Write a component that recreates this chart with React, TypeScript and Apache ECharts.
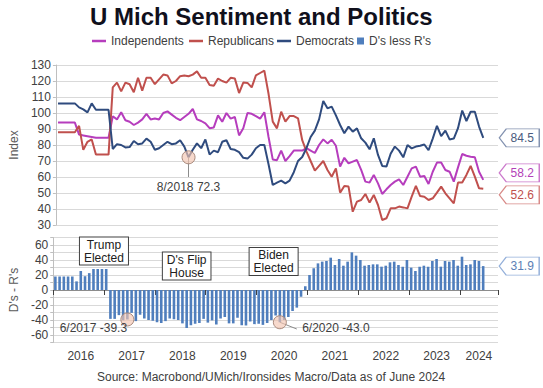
import React, { useEffect, useRef } from 'react';
import * as echarts from 'echarts';

// Monthly categories Jan 2016 .. Sep 2024 (axis runs a little past the data)
const categories: string[] = [];
for (let y = 2016; y <= 2024; y++) {
  for (let m = 1; m <= 12; m++) {
    if (y === 2024 && m > 9) break;
    categories.push(`${m}/${y}`);
  }
}

const independents = [
  94, 94, 94, 94, 94, 86.5, 86, 85.5, 85, 84.5, 84.5, 84.5,
  84.5, 98, 96, 100.5, 95.5, 94.5, 92.5, 94, 96, 99.5, 96, 96.5,
  96, 100, 101, 99, 97, 95.5, 97.5, 99.5, 102.5, 96, 95, 93.5,
  90.5, 91, 98.5, 94.5, 100, 96.5, 97.5, 86, 90.5, 100, 99.5, 98,
  96.5, 100.5, 85, 71, 70.5, 76.5, 70, 73, 76.5, 76.5, 76.5, 78,
  76.5, 75, 80, 83.5, 81, 83.3, 79.5, 66.5, 72, 68.5, 69.6, 70.6,
  64.4, 57.1, 56.5, 61.3, 56, 49.4, 52.3, 55, 57.1, 58.5, 55, 60.2,
  65.4, 66.5, 60.2, 60.6, 55.6, 63.3, 69, 69, 64.4, 63.3, 57.1, 66,
  74.4, 73.3, 72.7, 72.3, 63.3, 58.2,
];

const republicans = [
  88, 88, 88, 88, 88, 92, 77, 82, 83.5, 74, 74, 74,
  74, 116, 119, 113.5, 119, 118, 113, 122, 114, 122, 122, 118,
  121, 124, 123.5, 118.5, 120, 123, 123.5, 123, 124, 126, 122, 122,
  117.5, 117, 121.5, 120, 119, 122, 121.5, 112.5, 119, 118.8, 116, 123.5,
  125, 126.5, 112, 94.6, 90.4, 100.8, 94.6, 98.1, 98.1, 96.7, 83, 76,
  70, 64, 67, 70, 64.4, 60.2, 65.4, 50.2, 54.4, 54, 38.3, 44.6,
  45.6, 49.4, 44, 48.8, 42.5, 33.1, 34.2, 40.4, 40.4, 41.5, 41, 40.4,
  47.7, 54.4, 48.1, 47.7, 45.6, 46.7, 50.2, 54, 49.8, 46.7, 43.5, 56.5,
  56.5, 61.3, 66.9, 60.2, 52.9, 52.6,
];

const democrats = [
  106, 106, 106, 106, 106, 103.5, 102.3, 100.4, 106, 102, 102, 102,
  102, 77.5, 80.5, 80, 78.5, 78.7, 82.5, 80.5, 81, 84, 82, 77,
  78, 80, 82, 80.5, 81, 83, 79, 72.3, 77, 81, 78, 83.5,
  74, 76.5, 75.5, 82, 83, 77.5, 77, 75.5, 72, 71.5, 74, 78,
  80, 80, 68, 55, 56.5, 57.7, 56, 57.7, 63, 70, 72.5, 78,
  85, 89, 96, 107.5, 102.9, 104, 98.5, 92.5, 87.3, 91.5, 88.3, 90.4,
  84.2, 81.5, 77.3, 84.2, 73.8, 66.9, 66.5, 74.5, 79, 76.5, 72.3, 80,
  77.9, 79, 79.5, 80.3, 76.7, 84, 92, 85.6, 89, 83.5, 84, 90.5,
  101.5, 95, 100.8, 100.8, 91.5, 84.5,
];

const dLessR = [
  18, 18, 18, 18, 18, 11.5, 25.3, 18.4, 22.5, 28, 28, 28,
  28, -38.5, -38.5, -33.5, -40.5, -39.3, -30.5, -41.5, -33, -38, -40, -41,
  -43, -44, -41.5, -38, -39, -40, -44.5, -50.7, -47, -45, -44, -38.5,
  -43.5, -40.5, -46, -38, -36, -44.5, -44.5, -37, -47, -47.3, -42, -45.5,
  -45, -46.5, -44, -40, -34, -43, -40, -36, -28, -23.5, -9, 5,
  20, 29, 35.5, 37.8, 38.7, 43.1, 33.3, 41.3, 32.4, 37.8, 50.2, 45.8,
  40, 32.4, 33.3, 34.2, 34.2, 31.1, 32.4, 36.9, 37.8, 33.3, 31, 40,
  29.8, 25.3, 31, 32.4, 31, 38.7, 41.3, 31.1, 38.7, 37.8, 40, 32.4,
  44.4, 33.3, 34.2, 40, 38.7, 31.9,
];

const yearLabelIdx = [6, 18, 30, 42, 54, 66, 78, 90, 100];

const FONT = '"Liberation Sans", Arial, sans-serif';
const C_IND = '#B63DBD';
const C_REP = '#C0504D';
const C_DEM = '#2F4B7E';
const C_BAR = '#4F7EBD';
const GRID = '#d9d9d9';
const TXT = '#404040';

const ARROW = 'path://M0,9L7,0L40,0L40,18L7,18Z';

function lastLabel(idx: number, value: number, border: string, color: string, dy: number) {
  return {
    coord: [categories[idx], value],
    symbol: ARROW,
    symbolSize: [40, 18],
    symbolOffset: [36, dy],
    itemStyle: { color: '#ffffff', borderColor: border, borderWidth: 1 },
    label: {
      show: true,
      position: 'inside',
      offset: [3, 0],
      color,
      fontSize: 12,
      fontFamily: FONT,
      formatter: value.toFixed(1),
    },
  };
}

function circleNote(idx: number, value: number, text: string, labelOpt: any) {
  return {
    coord: [categories[idx], value],
    symbol: 'circle',
    symbolSize: 13,
    itemStyle: { color: 'rgba(242,196,176,0.65)', borderColor: '#a8897c', borderWidth: 1 },
    label: {
      show: true,
      color: TXT,
      fontSize: 12,
      fontFamily: FONT,
      formatter: text,
      ...labelOpt,
    },
  };
}

function boxNote(idx: number, value: number, text: string, dx: number) {
  return {
    coord: [categories[idx], value],
    symbol: 'rect',
    symbolSize: 1,
    itemStyle: { color: 'rgba(0,0,0,0)' },
    label: {
      show: true,
      position: 'inside',
      offset: [dx, 0],
      color: '#202020',
      fontSize: 12,
      fontFamily: FONT,
      lineHeight: 13,
      align: 'center',
      backgroundColor: '#ffffff',
      borderColor: '#404040',
      borderWidth: 1,
      padding: [1, 4, 0, 4],
      formatter: text,
    },
  };
}

function legendItem(name: string, left: number, square: boolean) {
  return {
    data: [name],
    left,
    top: 35,
    padding: 0,
    icon: 'rect',
    itemWidth: square ? 7 : 14,
    itemHeight: square ? 7 : 2.5,
    textStyle: { fontSize: 12, color: TXT, fontFamily: FONT },
  };
}

export default function App() {
  const ref = useRef<HTMLDivElement>(null);

  useEffect(() => {
    if (!ref.current) return;
    const chart = echarts.init(ref.current, undefined, { renderer: 'svg' });
    const last = democrats.length - 1;

    const option: any = {
      animation: false,
      backgroundColor: '#ffffff',
      textStyle: { fontFamily: FONT },
      title: [
        {
          text: 'U Mich Sentiment and Politics',
          left: 90,
          top: 4,
          padding: 0,
          textStyle: { fontSize: 24, fontWeight: 'bold', color: '#10101c', fontFamily: FONT },
        },
        {
          text: 'Source: Macrobond/UMich/Ironsides Macro/Data as of June 2024',
          left: 97,
          top: 371,
          padding: 0,
          textStyle: { fontSize: 12, fontWeight: 'normal', color: TXT, fontFamily: FONT },
        },
      ],
      legend: [
        legendItem('Independents', 92, false),
        legendItem('Republicans', 189, false),
        legendItem('Democrats', 277, false),
        legendItem("D's less R's", 357, true),
      ],
      grid: [
        { left: 51, right: 45, top: 65, height: 160 },
        { left: 51, right: 45, top: 237.5, height: 105 },
      ],
      xAxis: [
        {
          type: 'category',
          gridIndex: 0,
          data: categories,
          boundaryGap: true,
          show: false,
        },
        {
          type: 'category',
          gridIndex: 1,
          data: categories,
          boundaryGap: true,
          axisLine: { show: true, lineStyle: { color: '#8c8c8c' } },
          axisTick: {
            show: true,
            length: 5,
            interval: (idx: number) => idx % 12 === 0,
            lineStyle: { color: '#404040' },
          },
          axisLabel: {
            show: true,
            interval: (idx: number) => yearLabelIdx.indexOf(idx) >= 0,
            formatter: (v: string) => v.split('/')[1],
            color: TXT,
            fontSize: 12,
            margin: 7,
          },
          splitLine: { show: false },
        },
      ],
      yAxis: [
        {
          type: 'value',
          gridIndex: 0,
          min: 30,
          max: 130,
          interval: 10,
          name: 'Index',
          nameLocation: 'middle',
          nameGap: 33,
          nameTextStyle: { color: '#595959', fontSize: 12 },
          axisLine: { show: true, lineStyle: { color: '#bfbfbf' } },
          axisTick: { show: true, length: 3, lineStyle: { color: '#bfbfbf' } },
          axisLabel: { color: TXT, fontSize: 12, margin: 5 },
          splitLine: { show: true, lineStyle: { color: GRID } },
        },
        {
          type: 'value',
          gridIndex: 1,
          min: -70,
          max: 70,
          interval: 10,
          name: "D's - R's",
          nameLocation: 'middle',
          nameGap: 32,
          nameTextStyle: { color: '#595959', fontSize: 12 },
          axisLine: { show: true, lineStyle: { color: '#bfbfbf' } },
          axisTick: { show: true, length: 3, lineStyle: { color: '#bfbfbf' } },
          axisLabel: {
            color: TXT,
            fontSize: 12,
            margin: 5,
            formatter: (v: number) => (Math.abs(v) <= 60 && v % 20 === 0 ? String(v) : ''),
          },
          splitLine: { show: true, lineStyle: { color: GRID } },
        },
      ],
      series: [
        {
          name: 'Independents',
          type: 'line',
          xAxisIndex: 0,
          yAxisIndex: 0,
          data: independents,
          symbol: 'none',
          color: C_IND,
          lineStyle: { width: 2, color: C_IND },
          z: 3,
          markPoint: {
            z: 10,
            data: [lastLabel(last, independents[last], '#cc7acc', '#b33fb8', -7)],
          },
        },
        {
          name: 'Republicans',
          type: 'line',
          xAxisIndex: 0,
          yAxisIndex: 0,
          data: republicans,
          symbol: 'none',
          color: C_REP,
          lineStyle: { width: 2, color: C_REP },
          z: 3,
          markPoint: {
            z: 10,
            data: [lastLabel(last, republicans[last], '#d88a88', '#c0504d', 6)],
          },
        },
        {
          name: 'Democrats',
          type: 'line',
          xAxisIndex: 0,
          yAxisIndex: 0,
          data: democrats,
          symbol: 'none',
          color: C_DEM,
          lineStyle: { width: 2, color: C_DEM },
          z: 3,
          markLine: {
            silent: true,
            symbol: ['none', 'none'],
            label: { show: false },
            lineStyle: { color: '#8c8c8c', type: 'solid', width: 1 },
            data: [[{ coord: [categories[31], 72.3] }, { coord: [categories[31], 60] }]],
          },
          markPoint: {
            z: 10,
            data: [
              lastLabel(last, democrats[last], '#8392b0', '#4a5b7e', 0),
              circleNote(31, 72.3, '8/2018 72.3', { position: 'bottom', distance: 17 }),
            ],
          },
        },
        {
          name: "D's less R's",
          type: 'bar',
          xAxisIndex: 1,
          yAxisIndex: 1,
          data: dLessR,
          barWidth: 2.6,
          color: C_BAR,
          itemStyle: { color: C_BAR },
          z: 3,
          markLine: {
            silent: true,
            symbol: ['none', 'none'],
            label: { show: false },
            lineStyle: { color: '#8c8c8c', type: 'solid', width: 1 },
            data: [[{ coord: [categories[53], -43] }, { coord: [categories[57], -52] }]],
          },
          markPoint: {
            z: 10,
            data: [
              lastLabel(last, dLessR[last], '#94b0da', '#5b7fb5', 0),
              circleNote(17, -39.3, '6/2017 -39.3', { position: 'inside', offset: [-34, 9] }),
              circleNote(53, -43.0, '6/2020 -43.0', { position: 'inside', offset: [56, 6] }),
              boxNote(11, 52, 'Trump\nElected', 2),
              boxNote(31, 32, "D's Flip\nHouse", 0),
              boxNote(52, 38, 'Biden\nElected', -2),
            ],
          },
        },
      ],
    };

    chart.setOption(option);
    return () => chart.dispose();
  }, []);

  return (
    <div
      ref={ref}
      style={{ position: 'fixed', left: 0, top: 0, width: 543, height: 388, background: '#fff' }}
    />
  );
}
